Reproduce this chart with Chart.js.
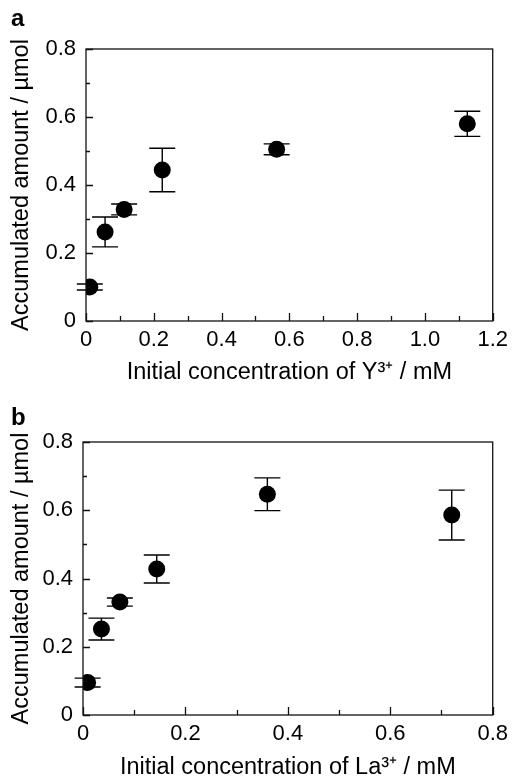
<!DOCTYPE html>
<html>
<head>
<meta charset="utf-8">
<script src="https://cdn.jsdelivr.net/npm/chart.js@4.4.1/dist/chart.umd.min.js"></script>
<style>
  body { margin: 0; background: #fff; }
  .panel { position: relative; width: 514px; height: 390px; }
  .panel canvas { display: block; }
  .tag { position: absolute; left: 11px; font: bold 24px "Liberation Sans", Arial, sans-serif; line-height: 24px; color: #000; }
</style>
</head>
<body>
<div class="panel"><div class="tag" style="top:6px">a</div><canvas id="chartA" width="514" height="390"></canvas></div>
<div class="panel"><div class="tag" style="top:15px">b</div><canvas id="chartB" width="514" height="390"></canvas></div>
<script>
// panel a: Y3+
const concY = [0.01125, 0.05625, 0.1125, 0.225, 0.5625, 1.125];
const amountY = [0.1, 0.262, 0.328, 0.444, 0.505, 0.58];
const errorY = [0.009, 0.044, 0.016, 0.064, 0.016, 0.037];

// panel b: La3+
const concLa = [0.009, 0.036, 0.072, 0.144, 0.36, 0.72];
const amountLa = [0.095, 0.252, 0.331, 0.428, 0.647, 0.586];
const errorLa = [0.013, 0.032, 0.012, 0.041, 0.048, 0.073];

const yTitle = "Accumulated amount / µmol";
const FONT = "'Liberation Sans', Arial, sans-serif";

function tickLabel(v) {
  const n = Math.round(v * 10);
  if (n % 2 !== 0) return "";
  return n === 0 ? "0" : (n / 10).toFixed(1);
}

// error bars, frame and inward tick marks
const framePlugin = {
  id: "framePlugin",
  beforeDatasetsDraw(chart, args, opts) {
    const ctx = chart.ctx;
    const xs = chart.scales.x;
    const ys = chart.scales.y;
    ctx.save();
    ctx.strokeStyle = "#000";
    ctx.lineWidth = 1.4;
    chart.data.datasets[0].data.forEach((p, i) => {
      const x = xs.getPixelForValue(p.x);
      const top = ys.getPixelForValue(p.y + opts.errors[i]);
      const bot = ys.getPixelForValue(p.y - opts.errors[i]);
      ctx.beginPath();
      ctx.moveTo(x, top);
      ctx.lineTo(x, bot);
      ctx.moveTo(x - 13, top);
      ctx.lineTo(x + 13, top);
      ctx.moveTo(x - 13, bot);
      ctx.lineTo(x + 13, bot);
      ctx.stroke();
    });
    ctx.restore();
  },
  afterDraw(chart) {
    const ctx = chart.ctx;
    const a = chart.chartArea;
    const xs = chart.scales.x;
    const ys = chart.scales.y;
    ctx.save();
    ctx.strokeStyle = "#111";
    ctx.lineWidth = 1.3;
    ctx.beginPath();
    ys.ticks.forEach((t) => {
      const y = Math.round(ys.getPixelForValue(t.value)) + 0.5;
      const len = Math.round(t.value * 10) % 2 === 0 ? 7 : 4;
      ctx.moveTo(a.left, y);
      ctx.lineTo(a.left + len, y);
    });
    xs.ticks.forEach((t) => {
      const x = Math.round(xs.getPixelForValue(t.value)) + 0.5;
      const len = Math.round(t.value * 10) % 2 === 0 ? 8 : 5;
      ctx.moveTo(x, a.bottom);
      ctx.lineTo(x, a.bottom - len);
    });
    ctx.stroke();
    ctx.strokeRect(a.left, a.top, a.right - a.left, a.bottom - a.top);
    ctx.restore();
  },
};

function makeChart(id, xs, ys, errs, o) {
  const points = xs.map((x, i) => ({ x: x, y: ys[i] }));
  return new Chart(document.getElementById(id), {
    type: "scatter",
    data: {
      datasets: [
        {
          data: points,
          pointRadius: 8.5,
          pointHoverRadius: 8.5,
          backgroundColor: "#000",
          borderColor: "#000",
          borderWidth: 0,
        },
      ],
    },
    options: {
      responsive: false,
      animation: false,
      events: [],
      layout: { padding: { top: o.top, right: o.right, left: 0, bottom: 0 } },
      plugins: {
        legend: { display: false },
        tooltip: { enabled: false },
        framePlugin: { errors: errs },
      },
      scales: {
        x: {
          type: "linear",
          min: 0,
          max: o.xMax,
          afterFit(s) {
            s.height = o.xHeight;
          },
          ticks: {
            stepSize: 0.1,
            autoSkip: false,
            maxRotation: 0,
            padding: 6,
            color: "#000",
            font: { family: FONT, size: 22 },
            callback: tickLabel,
          },
          grid: { display: false, drawTicks: false },
          border: { display: false },
          title: {
            display: true,
            text: o.xTitle,
            color: "#000",
            font: { family: FONT, size: 23.5, lineHeight: 1 },
            padding: { top: 0, bottom: o.xTitlePad },
          },
        },
        y: {
          min: 0,
          max: 0.8,
          afterFit(s) {
            s.width = o.yWidth;
          },
          ticks: {
            stepSize: 0.1,
            autoSkip: false,
            padding: 10,
            color: "#000",
            font: { family: FONT, size: 22 },
            callback: tickLabel,
          },
          grid: { display: false, drawTicks: false },
          border: { display: false },
          title: {
            display: true,
            text: yTitle,
            color: "#000",
            font: { family: FONT, size: 23.5, lineHeight: 1 },
            padding: { top: 10, bottom: 0 },
          },
        },
      },
    },
    plugins: [framePlugin],
  });
}

makeChart("chartA", concY, amountY, errorY, {
  top: 49, right: 18, yWidth: 86, xHeight: 69, xMax: 1.2, xTitlePad: 6,
  xTitle: "Initial concentration of Y³⁺ / mM",
});

makeChart("chartB", concLa, amountLa, errorLa, {
  top: 52, right: 21, yWidth: 83, xHeight: 65, xMax: 0.8, xTitlePad: 1,
  xTitle: "Initial concentration of La³⁺ / mM",
});
</script>
</body>
</html>
